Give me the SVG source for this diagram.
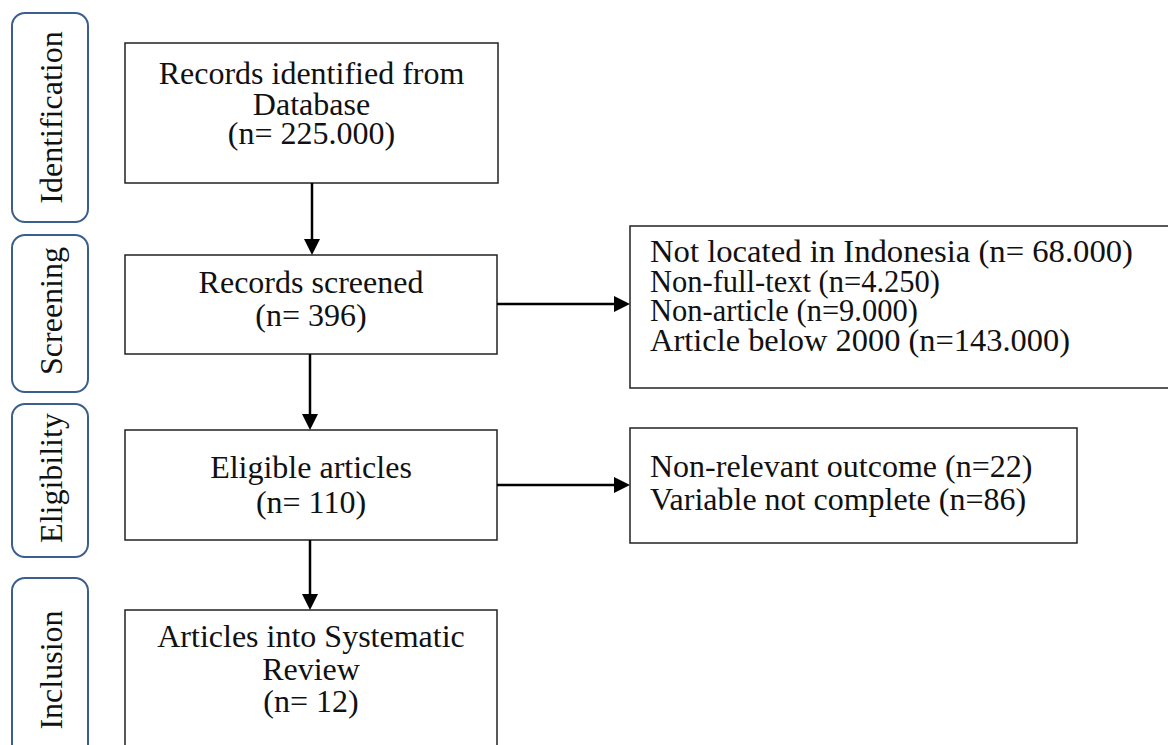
<svg xmlns="http://www.w3.org/2000/svg" width="1168" height="745" viewBox="0 0 1168 745">
<style>
text { font-family: "Liberation Serif", "Times New Roman", serif; font-size: 32px; fill: #111; }
.c { text-anchor: middle; }
.s { font-size: 30.5px; }
.stage rect { fill: #fff; stroke: #3A5F8F; stroke-width: 2; }
.node rect { fill: #fff; stroke: #222; stroke-width: 1.5; }
.conn line { stroke: #000; stroke-width: 2.5; marker-end: url(#arrow); }
</style>
<defs>
<marker id="arrow" viewBox="0 0 16 16" refX="8" refY="8" markerWidth="16" markerHeight="16" markerUnits="userSpaceOnUse" orient="auto">
<path d="M0,0 L16,8 L0,16 z" fill="#000"/>
</marker>
</defs>
<rect width="1168" height="745" fill="#fff"/>
<g id="stage-identification" class="stage">
<rect x="12" y="13" width="76" height="209" rx="13"/>
<text class="c" transform="translate(62,117.5) rotate(-90)">Identification</text>
</g>
<g id="stage-screening" class="stage">
<rect x="12" y="235" width="76" height="157" rx="13"/>
<text class="c" transform="translate(62,311) rotate(-90)">Screening</text>
</g>
<g id="stage-eligibility" class="stage">
<rect x="12" y="404" width="76" height="153" rx="13"/>
<text class="c" transform="translate(62,478) rotate(-90)">Eligibility</text>
</g>
<g id="stage-inclusion" class="stage">
<rect x="12" y="578" width="76" height="200" rx="13"/>
<text class="c" transform="translate(62,670) rotate(-90)">Inclusion</text>
</g>
<g id="node-identified" class="node">
<rect x="125" y="43" width="373" height="140"/>
<text class="c" x="311.5" y="84">Records identified from</text>
<text class="c" x="311.5" y="115">Database</text>
<text class="c" x="311.5" y="144">(n= 225.000)</text>
</g>
<g id="node-screened" class="node">
<rect x="125" y="255" width="372" height="99"/>
<text class="c" x="311" y="293">Records screened</text>
<text class="c" x="311" y="326">(n= 396)</text>
</g>
<g id="node-excluded-screening" class="node">
<rect x="630" y="226" width="600" height="162"/>
<text class="s" x="650" y="262" textLength="483" lengthAdjust="spacingAndGlyphs">Not located in Indonesia (n= 68.000)</text>
<text class="s" x="650" y="291.5">Non-full-text (n=4.250)</text>
<text class="s" x="650" y="321">Non-article (n=9.000)</text>
<text class="s" x="650" y="350.5" textLength="420" lengthAdjust="spacingAndGlyphs">Article below 2000 (n=143.000)</text>
</g>
<g id="node-eligible" class="node">
<rect x="125" y="430" width="372" height="110"/>
<text class="c" x="311" y="478">Eligible articles</text>
<text class="c" x="311" y="513">(n= 110)</text>
</g>
<g id="node-excluded-eligibility" class="node">
<rect x="630" y="428" width="447" height="115"/>
<text x="650" y="477">Non-relevant outcome (n=22)</text>
<text x="650" y="510">Variable not complete (n=86)</text>
</g>
<g id="node-included" class="node">
<rect x="125" y="610" width="372" height="200"/>
<text class="c" x="311" y="647">Articles into Systematic</text>
<text class="c" x="311" y="680">Review</text>
<text class="c" x="311" y="712">(n= 12)</text>
</g>
<g id="connectors" class="conn">
<line x1="312" y1="183" x2="312" y2="247"/>
<line x1="497" y1="304" x2="622" y2="304"/>
<line x1="310" y1="354" x2="310" y2="422"/>
<line x1="497" y1="485" x2="622" y2="485"/>
<line x1="310" y1="540" x2="310" y2="602"/>
</g>
</svg>
